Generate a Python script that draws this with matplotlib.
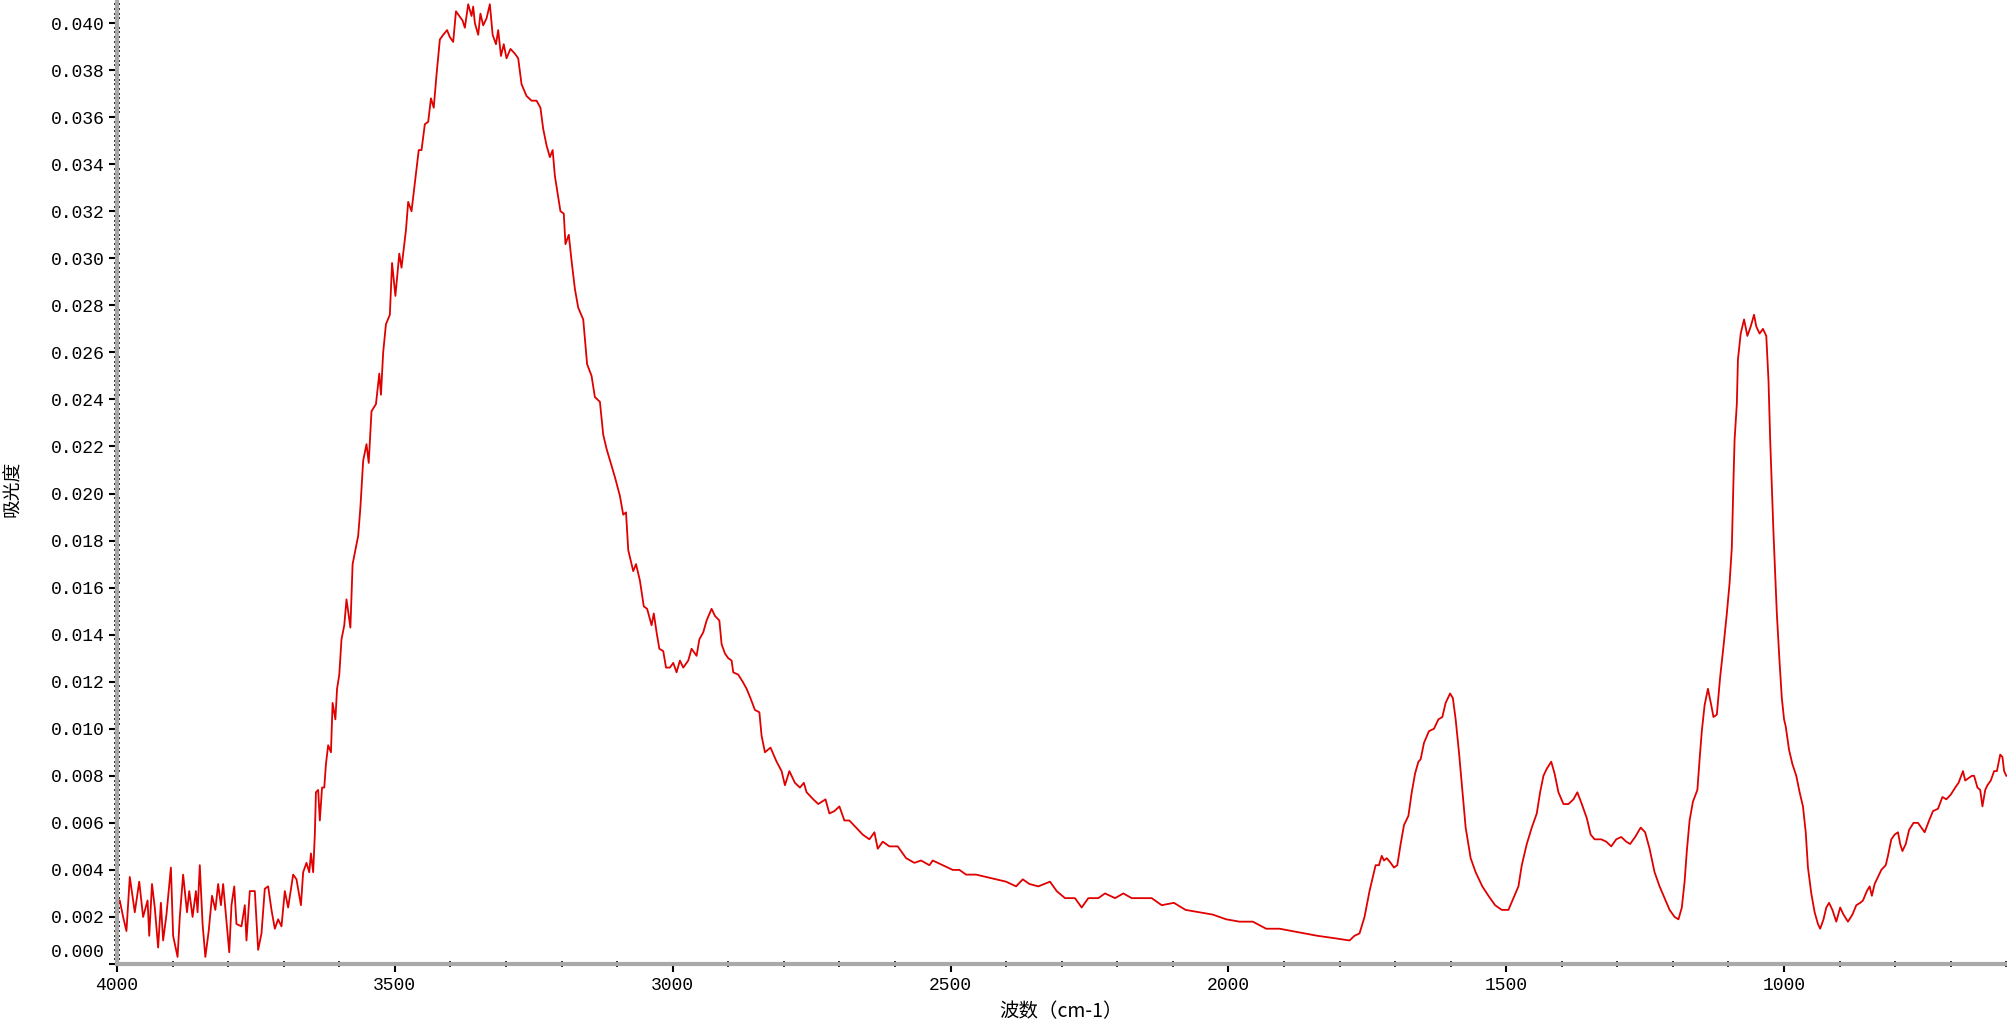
import matplotlib
matplotlib.use('Agg')
import matplotlib.pyplot as plt
import matplotlib.transforms as mtransforms
import numpy as np

# wavenumber (cm-1) and absorbance
wavenumber = [
    4000, 3995, 3989, 3983, 3977, 3968, 3960, 3953, 3945, 3942, 3937, 3932, 3926, 3921, 3917, 3911,
    3903, 3899, 3891, 3887, 3881, 3874, 3870, 3864, 3858, 3855, 3851, 3846, 3841, 3835, 3829, 3823,
    3818, 3813, 3809, 3803, 3798, 3794, 3789, 3785, 3776, 3770, 3767, 3761, 3752, 3746, 3740, 3734,
    3728, 3722, 3716, 3710, 3704, 3698, 3692, 3683, 3677, 3669, 3665, 3659, 3654, 3651, 3647, 3644,
    3642, 3638, 3635, 3631, 3627, 3624, 3620, 3615, 3612, 3607, 3604, 3600, 3596, 3591, 3587, 3580,
    3576, 3566, 3562, 3557, 3551, 3547, 3542, 3534, 3528, 3525, 3521, 3516, 3509, 3505, 3499, 3492,
    3488, 3480, 3476, 3470, 3464, 3457, 3452, 3446, 3440, 3435, 3430, 3425, 3419, 3413, 3406, 3401,
    3395, 3390, 3384, 3378, 3374, 3368, 3362, 3359, 3356, 3350, 3346, 3341, 3335, 3329, 3324, 3318,
    3314, 3309, 3304, 3299, 3292, 3284, 3278, 3272, 3263, 3254, 3245, 3238, 3233, 3227, 3221, 3216,
    3212, 3206, 3202, 3196, 3193, 3187, 3182, 3176, 3170, 3161, 3154, 3146, 3140, 3131, 3125, 3119,
    3104, 3095, 3089, 3084, 3080, 3071, 3066, 3059, 3052, 3046, 3038, 3034, 3029, 3024, 3017, 3012,
    3005, 2999, 2993, 2987, 2981, 2972, 2966, 2957, 2952, 2945, 2939, 2930, 2924, 2916, 2912, 2906,
    2900, 2894, 2891, 2882, 2874, 2867, 2860, 2852, 2844, 2840, 2834, 2824, 2813, 2804, 2798, 2790,
    2780, 2771, 2764, 2759, 2747, 2738, 2725, 2718, 2709, 2700, 2691, 2682, 2670, 2658, 2646, 2637,
    2631, 2622, 2610, 2595, 2580, 2565, 2553, 2538, 2532, 2514, 2496, 2484, 2472, 2454, 2436, 2418,
    2400, 2382, 2370, 2358, 2342, 2321, 2309, 2294, 2276, 2264, 2252, 2234, 2222, 2204, 2189, 2174,
    2156, 2138, 2120, 2098, 2077, 2052, 2028, 2004, 1980, 1956, 1932, 1908, 1885, 1861, 1840, 1810,
    1782, 1773, 1764, 1755, 1746, 1739, 1735, 1729, 1724, 1720, 1715, 1708, 1702, 1696, 1690, 1684,
    1676, 1670, 1664, 1658, 1654, 1648, 1639, 1630, 1622, 1615, 1609, 1601, 1596, 1591, 1585, 1579,
    1573, 1564, 1555, 1543, 1532, 1520, 1508, 1496, 1487, 1478, 1472, 1463, 1454, 1445, 1439, 1433,
    1427, 1419, 1413, 1406, 1397, 1388, 1379, 1372, 1364, 1355, 1348, 1341, 1329, 1320, 1311, 1302,
    1293, 1284, 1277, 1268, 1258, 1250, 1242, 1233, 1224, 1215, 1206, 1197, 1190, 1184, 1179, 1175,
    1170, 1164, 1156, 1152, 1148, 1143, 1137, 1131, 1127, 1121, 1115, 1109, 1103, 1098, 1094, 1091,
    1089, 1085, 1083, 1078, 1072, 1066, 1060, 1054, 1050, 1044, 1038, 1032, 1028, 1025, 1022, 1019,
    1016, 1013, 1008, 1004, 1000, 997, 991, 985, 978, 972, 966, 961, 957, 951, 945, 939,
    935, 929, 924, 919, 913, 906, 899, 893, 885, 877, 870, 863, 858, 851, 846, 842,
    837, 831, 825, 817, 813, 807, 801, 795, 791, 787, 781, 775, 767, 759, 753, 747,
    739, 732, 723, 715, 708, 700, 692, 686, 678, 674, 668, 662, 658, 652, 647, 643,
    638, 634, 628, 622, 617, 611, 607, 604, 600,
]

absorbance = [
    0.0027, 0.0027, 0.0020, 0.0014, 0.0037, 0.0022, 0.0035, 0.0020, 0.0027, 0.0012, 0.0034, 0.0024, 0.0007, 0.0026, 0.0010, 0.0021,
    0.0041, 0.0012, 0.0003, 0.0020, 0.0038, 0.0022, 0.0031, 0.0020, 0.0031, 0.0022, 0.0042, 0.0017, 0.0003, 0.0014, 0.0029, 0.0023,
    0.0034, 0.0025, 0.0034, 0.0018, 0.0005, 0.0025, 0.0033, 0.0017, 0.0016, 0.0025, 0.0010, 0.0031, 0.0031, 0.0006, 0.0013, 0.0032,
    0.0033, 0.0023, 0.0015, 0.0019, 0.0016, 0.0031, 0.0024, 0.0038, 0.0036, 0.0025, 0.0039, 0.0043, 0.0039, 0.0047, 0.0039, 0.0055,
    0.0073, 0.0074, 0.0061, 0.0075, 0.0075, 0.0085, 0.0093, 0.0090, 0.0111, 0.0104, 0.0117, 0.0123, 0.0138, 0.0144, 0.0155, 0.0143,
    0.0170, 0.0182, 0.0194, 0.0214, 0.0221, 0.0213, 0.0235, 0.0238, 0.0251, 0.0242, 0.0260, 0.0272, 0.0276, 0.0298, 0.0284, 0.0302,
    0.0296, 0.0312, 0.0324, 0.0320, 0.0332, 0.0346, 0.0346, 0.0357, 0.0358, 0.0368, 0.0364, 0.0378, 0.0393, 0.0395, 0.0397, 0.0394,
    0.0392, 0.0405, 0.0403, 0.0401, 0.0398, 0.0408, 0.0403, 0.0407, 0.0400, 0.0395, 0.0404, 0.0399, 0.0402, 0.0408, 0.0395, 0.0391,
    0.0397, 0.0386, 0.0391, 0.0385, 0.0389, 0.0387, 0.0385, 0.0374, 0.0369, 0.0367, 0.0367, 0.0364, 0.0355, 0.0348, 0.0343, 0.0346,
    0.0335, 0.0326, 0.0320, 0.0319, 0.0306, 0.0310, 0.0299, 0.0287, 0.0279, 0.0274, 0.0255, 0.0250, 0.0241, 0.0239, 0.0225, 0.0219,
    0.0207, 0.0199, 0.0191, 0.0192, 0.0176, 0.0167, 0.0170, 0.0163, 0.0152, 0.0151, 0.0144, 0.0149, 0.0141, 0.0134, 0.0133, 0.0126,
    0.0126, 0.0128, 0.0124, 0.0129, 0.0126, 0.0129, 0.0134, 0.0131, 0.0138, 0.0141, 0.0146, 0.0151, 0.0148, 0.0146, 0.0136, 0.0132,
    0.0130, 0.0129, 0.0124, 0.0123, 0.0120, 0.0117, 0.0113, 0.0108, 0.0107, 0.0097, 0.0090, 0.0092, 0.0086, 0.0082, 0.0076, 0.0082,
    0.0077, 0.0075, 0.0077, 0.0073, 0.0070, 0.0068, 0.0070, 0.0064, 0.0065, 0.0067, 0.0061, 0.0061, 0.0058, 0.0055, 0.0053, 0.0056,
    0.0049, 0.0052, 0.0050, 0.0050, 0.0045, 0.0043, 0.0044, 0.0042, 0.0044, 0.0042, 0.0040, 0.0040, 0.0038, 0.0038, 0.0037, 0.0036,
    0.0035, 0.0033, 0.0036, 0.0034, 0.0033, 0.0035, 0.0031, 0.0028, 0.0028, 0.0024, 0.0028, 0.0028, 0.0030, 0.0028, 0.0030, 0.0028,
    0.0028, 0.0028, 0.0025, 0.0026, 0.0023, 0.0022, 0.0021, 0.0019, 0.0018, 0.0018, 0.0015, 0.0015, 0.0014, 0.0013, 0.0012, 0.0011,
    0.0010, 0.0012, 0.0013, 0.0020, 0.0031, 0.0038, 0.0042, 0.0042, 0.0046, 0.0044, 0.0045, 0.0043, 0.0041, 0.0042, 0.0051, 0.0059,
    0.0063, 0.0073, 0.0081, 0.0086, 0.0087, 0.0094, 0.0099, 0.0100, 0.0104, 0.0105, 0.0111, 0.0115, 0.0113, 0.0104, 0.0090, 0.0074,
    0.0058, 0.0045, 0.0039, 0.0033, 0.0029, 0.0025, 0.0023, 0.0023, 0.0028, 0.0033, 0.0042, 0.0051, 0.0058, 0.0064, 0.0073, 0.0080,
    0.0083, 0.0086, 0.0081, 0.0073, 0.0068, 0.0068, 0.0070, 0.0073, 0.0068, 0.0062, 0.0055, 0.0053, 0.0053, 0.0052, 0.0050, 0.0053,
    0.0054, 0.0052, 0.0051, 0.0054, 0.0058, 0.0056, 0.0049, 0.0039, 0.0033, 0.0028, 0.0023, 0.0020, 0.0019, 0.0024, 0.0035, 0.0048,
    0.0061, 0.0069, 0.0074, 0.0087, 0.0099, 0.0110, 0.0117, 0.0110, 0.0105, 0.0106, 0.0122, 0.0135, 0.0149, 0.0162, 0.0177, 0.0206,
    0.0223, 0.0238, 0.0257, 0.0268, 0.0274, 0.0267, 0.0271, 0.0276, 0.0271, 0.0268, 0.0270, 0.0267, 0.0248, 0.0223, 0.0203, 0.0183,
    0.0166, 0.0149, 0.0128, 0.0113, 0.0104, 0.0101, 0.0091, 0.0085, 0.0080, 0.0073, 0.0067, 0.0056, 0.0041, 0.0030, 0.0022, 0.0017,
    0.0015, 0.0019, 0.0024, 0.0026, 0.0023, 0.0018, 0.0024, 0.0021, 0.0018, 0.0021, 0.0025, 0.0026, 0.0027, 0.0031, 0.0033, 0.0029,
    0.0034, 0.0037, 0.0040, 0.0042, 0.0046, 0.0053, 0.0055, 0.0056, 0.0051, 0.0048, 0.0051, 0.0057, 0.0060, 0.0060, 0.0058, 0.0056,
    0.0061, 0.0065, 0.0066, 0.0071, 0.0070, 0.0072, 0.0075, 0.0077, 0.0082, 0.0078, 0.0079, 0.0080, 0.0080, 0.0075, 0.0074, 0.0067,
    0.0074, 0.0076, 0.0078, 0.0082, 0.0082, 0.0089, 0.0088, 0.0082, 0.0080,
]

x_major = [4000, 3500, 3000, 2500, 2000, 1500, 1000]
y_major = np.arange(0, 0.0401, 0.002)

fig = plt.figure(figsize=(20.08, 10.22), dpi=100)
ax = fig.add_axes([117 / 2008, 58 / 1022, 1 - 117 / 2008, 964 / 1022])

ax.plot(wavenumber, absorbance, color='#e00000', lw=1.3)

ax.set_xlim(4000, 597)
ax.set_ylim(0, 0.04098)

ax.set_xticks(x_major)
ax.set_xticks(np.arange(600, 4001, 100), minor=True)
ax.set_yticks(y_major)
ax.set_yticklabels(['%.3f' % v for v in y_major])
ax.set_yticks(np.arange(0, 0.0409, 0.0002), minor=True)

for side in ['top', 'right']:
    ax.spines[side].set_visible(False)
for side in ['left', 'bottom']:
    ax.spines[side].set_color('#a9a9a9')
    ax.spines[side].set_linewidth(3)

ax.tick_params(which='major', direction='out', length=6, width=1.5, color='black', pad=3)
ax.tick_params(which='minor', direction='inout', length=4, width=1.2, color='black')
for lab in ax.get_xticklabels() + ax.get_yticklabels():
    lab.set_family(['Liberation Mono', 'DejaVu Sans Mono'])
    lab.set_fontsize(13)

# the zero label sits a bit above the corner in the original
zero = ax.get_yticklabels()[0]
zero.set_transform(zero.get_transform() + mtransforms.ScaledTranslation(0, 14 / 100, fig.dpi_scale_trans))

ax.set_xlabel('波数（cm-1）', family=['Noto Sans CJK SC', 'DejaVu Sans'], fontsize=14, va='center')
ax.xaxis.set_label_coords(0.499, -0.0498)
ax.set_ylabel('吸光度', family=['Noto Sans CJK SC', 'DejaVu Sans'], fontsize=13.5, va='center')
ax.yaxis.set_label_coords(-0.055, 0.493)

fig.savefig('out.png', dpi=100)
